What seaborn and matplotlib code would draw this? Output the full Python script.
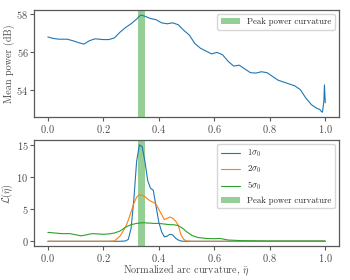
import numpy as np
import matplotlib
matplotlib.use("Agg")
import matplotlib.pyplot as plt
import seaborn as sns

# mean power vs normalized curvature (top panel)
pw_eta = [0.0, 0.02, 0.04, 0.07, 0.09, 0.11, 0.13, 0.15, 0.17, 0.2, 0.22, 0.24, 0.26,
          0.28, 0.30, 0.32, 0.335, 0.35, 0.37, 0.39, 0.41, 0.43, 0.45, 0.47, 0.49, 0.51,
          0.53, 0.55, 0.57, 0.59, 0.61, 0.63, 0.65, 0.67, 0.69, 0.71, 0.73, 0.75, 0.77,
          0.79, 0.81, 0.83, 0.85, 0.87, 0.89, 0.91, 0.93, 0.95, 0.97, 0.98, 0.985, 0.99,
          0.995, 0.997, 1.0]
pw_db = [56.8, 56.72, 56.68, 56.68, 56.6, 56.5, 56.42, 56.6, 56.7, 56.66, 56.66, 56.75,
         57.05, 57.3, 57.5, 57.75, 57.97, 57.9, 57.78, 57.72, 57.55, 57.5, 57.55, 57.45,
         57.15, 56.9, 56.45, 56.2, 56.05, 55.9, 55.98, 55.85, 55.5, 55.25, 55.3, 55.1,
         54.9, 54.88, 54.95, 54.9, 54.7, 54.5, 54.4, 54.3, 54.2, 54.0, 53.55, 53.2, 53.0,
         52.95, 52.85, 52.8, 53.4, 54.25, 53.3]

# likelihood curves (bottom panel)
eta = [0.0, 0.05, 0.08, 0.12, 0.16, 0.2, 0.22, 0.24, 0.26, 0.28, 0.29, 0.30, 0.31, 0.32,
       0.33, 0.34, 0.35, 0.36, 0.37, 0.38, 0.39, 0.40, 0.41, 0.42, 0.43, 0.44, 0.45, 0.46,
       0.47, 0.48, 0.49, 0.50, 0.52, 0.54, 0.57, 0.60, 0.62, 0.65, 0.70, 0.80, 0.90, 1.0]
l_1sig = [0, 0, 0, 0, 0, 0, 0, 0, 0, 0.05, 0.3, 2.0, 6.5, 12.5, 15.1, 14.8, 12.5, 9.5,
          8.3, 8.0, 5.5, 3.0, 1.5, 0.7, 0.8, 1.1, 1.0, 0.5, 0.2, 0.05, 0, 0, 0, 0, 0, 0,
          0, 0, 0, 0, 0, 0]
l_2sig = [0, 0, 0, 0, 0, 0, 0, 0.05, 0.8, 2.2, 3.3, 4.6, 5.9, 6.9, 7.3, 7.2, 7.0, 6.6,
          6.3, 6.1, 5.8, 5.0, 4.2, 3.4, 3.6, 3.8, 3.6, 3.2, 2.5, 1.0, 0.3, 0.05, 0, 0, 0,
          0, 0, 0, 0, 0, 0, 0]
l_5sig = [1.4, 1.2, 1.2, 0.85, 1.2, 1.1, 1.15, 1.3, 1.6, 2.2, 2.4, 2.6, 2.7, 2.8, 2.85,
          2.9, 2.9, 2.85, 2.85, 2.8, 2.8, 2.8, 2.75, 2.7, 2.65, 2.6, 2.6, 2.55, 2.45, 2.2,
          1.9, 1.5, 0.9, 0.6, 0.45, 0.4, 0.45, 0.2, 0.1, 0.05, 0.05, 0.05]

peak_lo, peak_hi = 0.324, 0.352

sns.set_style("ticks")
plt.rcParams['font.family'] = 'serif'
plt.rcParams['font.serif'] = ['cmr10', 'DejaVu Serif']
plt.rcParams['mathtext.fontset'] = 'cm'
plt.rcParams['axes.formatter.use_mathtext'] = True
plt.rcParams['axes.unicode_minus'] = False
plt.rcParams['axes.edgecolor'] = '0.35'
plt.rcParams['xtick.color'] = '0.35'
plt.rcParams['ytick.color'] = '0.35'
plt.rcParams['xtick.labelcolor'] = '0.3'
plt.rcParams['ytick.labelcolor'] = '0.3'
plt.rcParams['axes.labelcolor'] = '0.3'

fig = plt.figure(figsize=(3.5, 2.8), dpi=100)
ax1 = fig.add_axes([0.097, 0.582, 0.872, 0.382])
ax2 = fig.add_axes([0.097, 0.121, 0.872, 0.379])

green = sns.color_palette("tab10")[2]
blue, orange = sns.color_palette("tab10")[0], sns.color_palette("tab10")[1]

sns.lineplot(x=pw_eta, y=pw_db, ax=ax1, color=blue, linewidth=0.8)
ax1.axvspan(peak_lo, peak_hi, color=green, alpha=0.5, lw=0, label="Peak power curvature")
ax1.set_ylabel("Mean power (dB)", fontsize=7.3)
ax1.set_yticks([54, 56, 58])
ax1.legend(loc="upper right", fontsize=6.3, handlelength=2.2)

sns.lineplot(x=eta, y=l_1sig, ax=ax2, color=blue, linewidth=0.8, label=r"$1\sigma_0$")
sns.lineplot(x=eta, y=l_2sig, ax=ax2, color=orange, linewidth=0.8, label=r"$2\sigma_0$")
sns.lineplot(x=eta, y=l_5sig, ax=ax2, color=green, linewidth=0.8, label=r"$5\sigma_0$")
ax2.axvspan(peak_lo, peak_hi, color=green, alpha=0.5, lw=0, label="Peak power curvature")
ax2.set_ylabel(r"$\mathcal{L}(\bar{\eta})$", fontsize=7.3)
ax2.set_xlabel(r"Normalized arc curvature, $\bar{\eta}$", fontsize=7.3, labelpad=-1)
ax2.set_yticks([0, 5, 10, 15])
ax2.legend(loc="upper right", fontsize=6.3, handlelength=2.2)

for ax in (ax1, ax2):
    ax.set_xticks([0.0, 0.2, 0.4, 0.6, 0.8, 1.0])
    ax.tick_params(labelsize=7.5, length=3, width=0.8, pad=1)
    for s in ax.spines.values():
        s.set_linewidth(0.9)
    ax.yaxis.set_label_coords(-0.062, 0.5)

fig.savefig("out.png", dpi=100)
